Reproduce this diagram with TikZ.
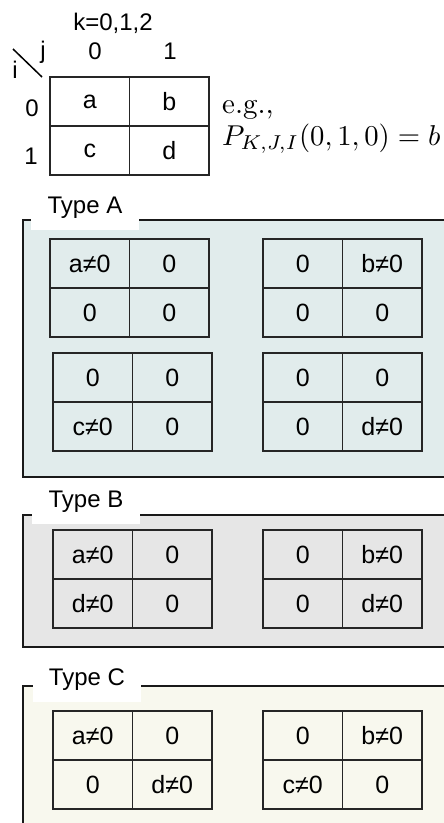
\documentclass[tikz,border=0pt]{standalone}
\usepackage{graphicx}
\usepackage{fontspec}
\newfontfamily\arial{Liberation Sans}
\usetikzlibrary{positioning}

\definecolor{typeAfill}{HTML}{E1ECEC}
\definecolor{typeBfill}{HTML}{E6E6E6}
\definecolor{typeCfill}{HTML}{F8F8EE}

\tikzset{
  lbl/.style={inner sep=0pt, font=\arial\fontsize{24}{24}\selectfont},
  cell/.style={lbl, font=\arial\fontsize{25}{25}\selectfont, draw=black!85,
    line width=1.2pt, outer sep=0pt, minimum width=79.5pt, minimum height=49pt},
  frame/.style={draw=black!90, line width=2pt},
  typelabel/.style={lbl, fill=white, minimum width=108pt, minimum height=44pt}
}

% 2x2 table: name, top left corner, entries a b c d
\newcommand{\ptable}[6]{%
  \node[cell, anchor=north west] (#1-a) at (#2) {#3};
  \node[cell, right=0pt of #1-a] (#1-b) {#4};
  \node[cell, below=0pt of #1-a] (#1-c) {#5};
  \node[cell, right=0pt of #1-c] (#1-d) {#6};
}

\begin{document}
\begin{tikzpicture}[x=1pt,y=-1pt]
\useasboundingbox (0,0) rectangle (444,823);

% index table
\node[lbl] (klabel) at (113,23) {k=0,1,2};
\node[lbl] (jzero) at (95,51) {0};
\node[lbl] (jone) at (170,51) {1};
\node[lbl] (jlabel) at (43,52) {j};
\node[lbl] (ilabel) at (15,70) {i};
\draw[line width=1.5pt] (13,49) -- (42,77);
\ptable{key}{50,77}{a}{b}{c}{d}
\node[lbl] (izero) at (32,108) {0};
\node[lbl] (ione) at (31,156) {1};
\node[anchor=base west, inner sep=0pt] (eg) at (222,113) {\scalebox{2.9}{e.g.,}};
\node[anchor=base west, inner sep=0pt] (example) at (222,145) {\scalebox{2.87}{$P_{K,J,I}(0,1,0)=b$}};

% Type A
\draw[frame, fill=typeAfill] (23,220) rectangle (470,477);
\node[typelabel] (typeA) at (85,208) {Type A};
\ptable{A1}{50,239}{a≠0}{0}{0}{0}
\ptable{A2}{263,239}{0}{b≠0}{0}{0}
\ptable{A3}{53,353}{0}{0}{c≠0}{0}
\ptable{A4}{263,353}{0}{0}{0}{d≠0}

% Type B
\draw[frame, fill=typeBfill] (23,515) rectangle (470,647);
\node[typelabel] (typeB) at (86,502) {Type B};
\ptable{B1}{53,530}{a≠0}{0}{d≠0}{0}
\ptable{B2}{263,530}{0}{b≠0}{0}{d≠0}

% Type C
\draw[frame, fill=typeCfill] (23,686) rectangle (470,850);
\node[typelabel] (typeC) at (87,680) {Type C};
\ptable{C1}{53,711}{a≠0}{0}{0}{d≠0}
\ptable{C2}{263,711}{0}{b≠0}{c≠0}{0}
\end{tikzpicture}
\end{document}
